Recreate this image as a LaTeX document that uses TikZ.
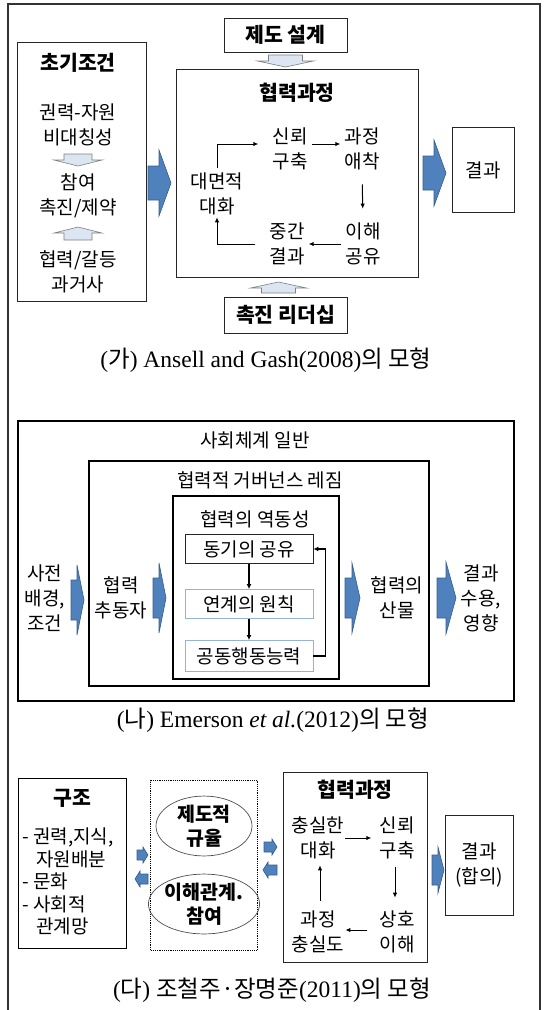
\documentclass[tikz,border=0pt]{standalone}
\usepackage{fontspec}
\setmainfont{Noto Sans CJK KR}
\newfontfamily\ser{Liberation Serif}
\usetikzlibrary{arrows.meta,shapes.geometric}
\definecolor{bluef}{HTML}{4F81BD}
\definecolor{blued}{HTML}{385D8A}
\definecolor{grayf}{HTML}{DCE6F2}
\definecolor{grayd}{HTML}{7F7F7F}
\definecolor{lblue}{HTML}{95B3D7}
\newcommand\myRA[7]{\draw[#7] (#1,{#3-#5}) -- ({#2-#6},{#3-#5}) -- ({#2-#6},{#3-#4}) -- (#2,#3) -- ({#2-#6},{#3+#4}) -- ({#2-#6},{#3+#5}) -- (#1,{#3+#5}) -- cycle;}
\newcommand\myLA[7]{\draw[#7] (#1,{#3-#5}) -- ({#2+#6},{#3-#5}) -- ({#2+#6},{#3-#4}) -- (#2,#3) -- ({#2+#6},{#3+#4}) -- ({#2+#6},{#3+#5}) -- (#1,{#3+#5}) -- cycle;}
\newcommand\myDA[7]{\draw[#7] ({#3-#5},#1) -- ({#3-#5},{#2-#6}) -- ({#3-#4},{#2-#6}) -- (#3,#2) -- ({#3+#4},{#2-#6}) -- ({#3+#5},{#2-#6}) -- ({#3+#5},#1) -- cycle;}
\newcommand\myUA[7]{\draw[#7] ({#3-#5},#1) -- ({#3-#5},{#2+#6}) -- ({#3-#4},{#2+#6}) -- (#3,#2) -- ({#3+#4},{#2+#6}) -- ({#3+#5},{#2+#6}) -- ({#3+#5},#1) -- cycle;}
\begin{document}
\begin{tikzpicture}[x=1pt,y=-1pt,
  box/.style={draw=black!85, line width=0.9pt, inner sep=0pt},
  thick box/.style={draw=black, line width=1.5pt, inner sep=0pt},
  txt/.style={font=\fontsize{19}{25}\selectfont, align=center, inner sep=0pt},
  btxt/.style={font=\fontsize{20.5}{25}\selectfont\bfseries, align=center, inner sep=0pt},
  etxt/.style={font=\fontsize{19.5}{24}\selectfont\bfseries, align=center, inner sep=0pt},
  captxt/.style={font=\fontsize{23.5}{27}\selectfont, inner sep=0pt},
  conn/.style={line width=1pt, -{Latex[length=5pt,width=4.5pt]}},
  bconn/.style={line width=1.6pt, -{Latex[length=5pt,width=5pt]}},
  barrow/.style={fill=bluef, draw=blued, line width=0.6pt},
  garrow/.style={fill=grayf, draw=grayd, line width=0.6pt}]
\useasboundingbox (0,0) rectangle (548,1010);
% outer frame
\draw[line width=1.3pt, black!80] (8,1012) -- (8,4) -- (540,4) -- (540,1012);

% ---------- (가) ----------
\node[box, anchor=north west, minimum width=129pt, minimum height=259pt] (A) at (17,42) {};
\node[btxt] (A0) at (78,63) {초기조건};
\node[txt] (A1) at (78,125) {권력-자원\\비대칭성};
\node[txt] (A2) at (78,196) {참여\\촉진/제약};
\node[txt] (A3) at (78,272) {협력/갈등\\과거사};
\myDA{154}{166}{78}{24}{14}{6}{garrow}
\myUA{240}{227}{78}{24}{14}{6}{garrow}

\node[box, minimum width=123pt, minimum height=34pt, btxt] (B1) at (285.5,35) {제도 설계};
\myDA{55}{67}{285.5}{28}{17}{6}{garrow}
\node[box, anchor=north west, minimum width=242pt, minimum height=208pt] (P) at (176,69) {};
\node[btxt] (P0) at (297,93) {협력과정};
\node[txt] (n1) at (290,149) {신뢰\\구축};
\node[txt] (n2) at (362,149) {과정\\애착};
\node[txt] (n3) at (363,244) {이해\\공유};
\node[txt] (n4) at (287,244) {중간\\결과};
\node[txt] (n5) at (217,194) {대면적\\대화};
\draw[conn] ([yshift=5pt,xshift=4pt]n1.east) -- ([yshift=5pt,xshift=-4pt]n2.west);
\draw[conn, shorten <=14pt, shorten >=14pt] (n2.south) -- (n3.north);
\draw[conn] ([xshift=-4pt]n3.west) -- ([xshift=4pt]n4.west -| n4.east);
\draw[conn] ([xshift=-14pt]n4.west) -| ([yshift=-2pt]n5.south);
\draw[conn] ([yshift=5pt]n5.north) |- ([yshift=5pt,xshift=-14pt]n1.west);
\node[box, minimum width=123pt, minimum height=36pt, btxt] (B2) at (285.5,315) {촉진 리더십};
\myUA{293}{282}{278.5}{28}{17}{6}{garrow}
\node[box, anchor=north west, minimum width=62pt, minimum height=85pt, txt] (R) at (452,127) {결과};
\myRA{148}{171}{183}{33}{17}{12}{barrow}
\myRA{423}{446}{173}{33}{17}{12}{barrow}
\node[captxt] (C1) at (266,360) {{\ser(}가{\ser) Ansell and Gash(2008)}의 모형};

% ---------- (나) ----------
\node[thick box, anchor=north west, minimum width=496pt, minimum height=280pt] (S) at (17,420) {};
\node[txt] (S0) at (255,440) {사회체계 일반};
\node[thick box, anchor=north west, minimum width=340pt, minimum height=225pt] (G) at (88,460) {};
\node[txt] (G0) at (260,480) {협력적 거버넌스 레짐};
\node[thick box, anchor=north west, minimum width=166pt, minimum height=183pt] (D) at (172,495) {};
\node[txt] (D0) at (255,519) {협력의 역동성};
\node[draw=black!85, line width=0.9pt, minimum width=128pt, minimum height=29pt, txt] (d1) at (249,549) {동기의 공유};
\node[draw=lblue, line width=0.9pt, minimum width=128pt, minimum height=29pt, txt] (d2) at (249,604) {연계의 원칙};
\node[draw=lblue, line width=0.9pt, minimum width=128pt, minimum height=31pt, txt] (d3) at (249,656) {공동행동능력};
\draw[bconn] (d1) -- (d2);
\draw[bconn] (d2) -- (d3);
\draw[bconn] (d3.east) -- ++(12,0) |- (d1.east);
\node[txt] (t1) at (45,598) {사전\\배경,\\조건};
\node[txt] (t2) at (121,598) {협력\\추동자};
\node[txt] (t3) at (397,598) {협력의\\산물};
\node[txt] (t4) at (481,598) {결과\\수용,\\영향};
\myRA{71}{84}{600}{35}{20}{7}{barrow}
\myRA{153}{166}{598}{35}{20}{7}{barrow}
\myRA{345}{360}{598}{35}{20}{8}{barrow}
\myRA{437}{456}{598}{36}{20}{10}{barrow}
\node[captxt] (C2) at (273,720) {{\ser(}나{\ser) Emerson \textit{et al.}(2012)}의 모형};

% ---------- (다) ----------
\node[draw=black, line width=1.2pt, anchor=north west, minimum width=108pt, minimum height=170pt, inner sep=0pt] (K) at (18,778) {};
\node[btxt] (K0) at (72,798) {구조};
\node[anchor=north west, align=left, inner sep=0pt, font=\fontsize{19}{22.5}\selectfont] (K1) at (22,828)
  {- 권력,지식,\\\hspace*{14pt}자원배분\\- 문화\\- 사회적\\\hspace*{14pt}관계망};
\node[draw=black, densely dotted, line width=1.2pt, anchor=north west, minimum width=107pt, minimum height=170pt, inner sep=0pt] (E) at (150,780) {};
\node[ellipse, draw=black!70, line width=0.7pt, minimum width=96pt, minimum height=56pt, inner sep=0pt, etxt] (e1) at (204,826) {제도적\\규율};
\node[ellipse, draw=black!70, line width=0.7pt, minimum width=97pt, minimum height=58pt, inner sep=0pt, etxt] (e2) at (204,904) {이해관계.\\참여};
\myRA{137}{148}{855}{8}{5}{5}{barrow}
\myLA{148}{135}{879}{8}{5}{5}{barrow}
\myRA{264}{277}{847}{8}{5}{5}{barrow}
\myLA{277}{263}{870}{8}{5}{5}{barrow}
\node[box, anchor=north west, minimum width=144pt, minimum height=190pt] (Q) at (283,772) {};
\node[btxt] (Q0) at (355,790) {협력과정};
\node[txt] (c1) at (318,838) {충실한\\대화};
\node[txt] (c2) at (397,838) {신뢰\\구축};
\node[txt] (c3) at (397,932) {상호\\이해};
\node[txt] (c4) at (318,932) {과정\\충실도};
\draw[conn, shorten <=1pt, shorten >=8pt] (c1.east) -- (c2.west);
\draw[conn, shorten <=8pt, shorten >=13pt] ([xshift=-2pt]c2.south) -- ([xshift=-2pt]c3.north);
\draw[conn, shorten <=12pt, shorten >=1pt] ([yshift=2pt]c3.west) -- ([yshift=2pt]c4.east);
\draw[conn, shorten <=10pt, shorten >=6pt] ([xshift=2pt]c4.north) -- ([xshift=2pt]c1.south);
\node[box, anchor=north west, minimum width=68pt, minimum height=100pt, txt] (RR) at (445,815) {결과\\(합의)};
\myRA{432}{444}{870}{23}{15}{6}{barrow}
\node[captxt] (C3) at (272,990) {{\ser(}다{\ser) }조철주·장명준{\ser(2011)}의 모형};
\end{tikzpicture}
\end{document}
